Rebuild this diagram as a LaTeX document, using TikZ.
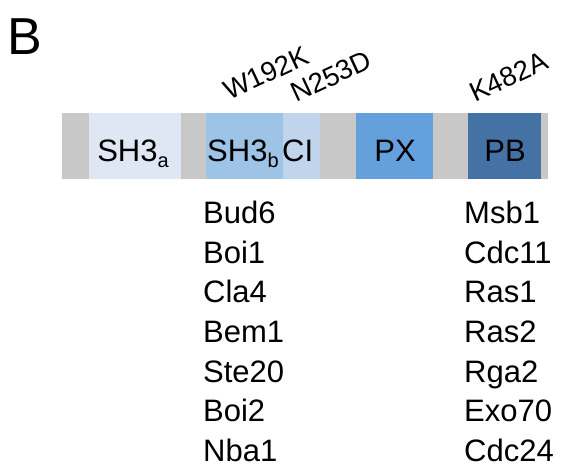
\documentclass[tikz,border=0pt]{standalone}
\usepackage{fontspec}
\setmainfont{Liberation Sans}
\definecolor{linker}{HTML}{C8C8C8}
\definecolor{sha}{HTML}{E0E7F4}
\definecolor{shb}{HTML}{9DC3E6}
\definecolor{ci}{HTML}{C0D5EB}
\definecolor{px}{HTML}{64A0DC}
\definecolor{pb}{HTML}{4472A4}
\newcommand{\subx}[1]{\raisebox{-0.22em}{\fontsize{20}{20}\selectfont #1}}
\tikzset{
  lab/.style={inner sep=0pt,anchor=base,font=\fontsize{31}{31}\selectfont},
  labw/.style={inner sep=0pt,anchor=base west,font=\fontsize{31}{31}\selectfont},
  mut/.style={inner sep=0pt,anchor=base west,rotate=25,font=\fontsize{27.5}{27.5}\selectfont},
  item/.style={inner sep=0pt,anchor=base west,font=\fontsize{31}{31}\selectfont}
}
\begin{document}
\begin{tikzpicture}[x=1pt,y=-1pt]
\useasboundingbox (0,0) rectangle (561,469);
% bar
\fill[linker] (62,113) rectangle (548,179);
\fill[sha] (89,113) rectangle (181,179);
\fill[shb] (206,113) rectangle (283,179);
\fill[ci] (283,113) rectangle (320,179);
\fill[px] (356,113) rectangle (433,179);
\fill[pb] (468,113) rectangle (541,179);
% panel label
\node[inner sep=0pt,anchor=base west,font=\fontsize{52}{52}\selectfont] (B) at (7,54) {B};
% domain labels
\node[lab] (tSHa) at (133,161) {SH3\subx{a}};
\node[labw] (tSHb) at (207,161) {SH3\subx{b}};
\node[labw] (tCI) at (282,161) {CI};
\node[lab] (tPX) at (395,161) {PX};
\node[lab] (tPB) at (505,161) {PB};
% mutations
\node[mut] (m1) at (229,101) {W192K};
\node[mut] (m2) at (296,103) {N253D};
\node[mut] (m3) at (475,103) {K482A};
% interactors
\foreach \t [count=\i] in {Bud6,Boi1,Cla4,Bem1,Ste20,Boi2,Nba1}
  \node[item] (l\i) at (203,{223.3+39.7*(\i-1)}) {\t};
\foreach \t [count=\i] in {Msb1,Cdc11,Ras1,Ras2,Rga2,Exo70,Cdc24}
  \node[item] (r\i) at (464,{223.3+39.7*(\i-1)}) {\t};
\end{tikzpicture}
\end{document}
